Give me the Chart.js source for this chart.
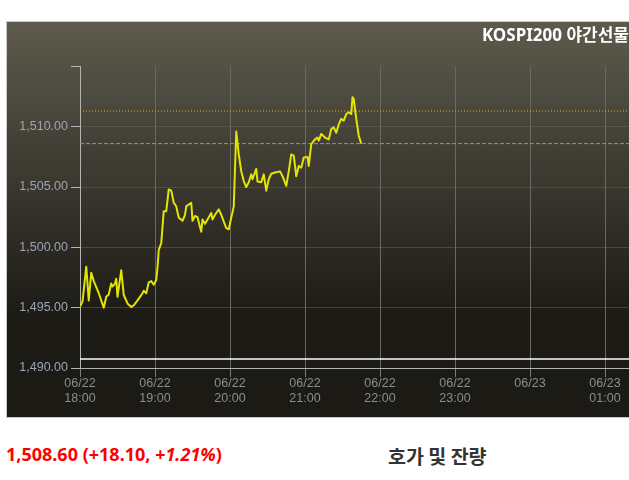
<!DOCTYPE html>
<html>
<head>
<meta charset="utf-8">
<script src="https://cdn.jsdelivr.net/npm/chart.js@4.4.1/dist/chart.umd.min.js"></script>
<style>
  html, body { margin: 0; padding: 0; background: #fff; }
  body { width: 629px; height: 480px; position: relative; overflow: hidden; }
  #chart { position: absolute; left: 0; top: 0; }
  .price { position: absolute; left: 6px; top: 442px; font: bold 18px "Noto Sans", sans-serif; color: #f00; white-space: nowrap; }
  .price i { font-style: italic; }
  .book { position: absolute; left: 388px; top: 441px; font: bold 19.5px "Noto Sans CJK KR", sans-serif; color: #333; white-space: nowrap; }
</style>
</head>
<body>
<canvas id="chart" width="629" height="420"></canvas>
<div class="price">1,508.60 (+18.10, <i>+1.21%</i>)</div>
<div class="book">호가 및 잔량</div>
<script>
// minutes after 06/22 18:00, and the price at that minute
const minutes = [0, 2, 5, 7, 9, 11, 15, 19, 21, 23, 25, 26, 28, 29, 30, 33, 35, 38, 41, 43,
    46, 48, 50, 51, 53, 55, 57, 59, 61, 62, 63, 65, 67, 69, 71, 73, 75, 77, 79, 81,
    82, 84, 85, 89, 90, 92, 94, 97, 98, 100, 102, 105, 106, 108, 111, 113, 117, 119, 121, 122,
    123, 125, 127, 129, 131, 133, 135, 137, 138, 141, 142, 145, 147, 149, 151, 153, 156, 160, 162, 165,
    167, 169, 171, 173, 175, 177, 179, 182, 183, 185, 188, 190, 191, 193, 196, 199, 201, 203, 205, 207,
    209, 211, 213, 215, 217, 218, 219, 221, 223, 225];
const prices = [1495.1, 1495.5, 1498.4, 1495.6, 1497.9, 1497.2, 1496.2, 1495.0, 1495.9, 1496.1,
    1497.0, 1496.75, 1497.0, 1497.4, 1495.9, 1498.1, 1496.05, 1495.35, 1495.05, 1495.2,
    1495.6, 1495.9, 1496.2, 1496.4, 1496.2, 1497.1, 1497.2, 1496.9, 1497.3, 1498.3,
    1499.8, 1500.35, 1503.0, 1503.0, 1504.8, 1504.7, 1503.7, 1503.4, 1502.45, 1502.3,
    1502.2, 1502.7, 1503.4, 1503.7, 1502.2, 1502.6, 1502.5, 1501.3, 1502.3, 1501.95,
    1502.3, 1502.85, 1502.3, 1502.7, 1503.15, 1502.7, 1501.6, 1501.5, 1502.45, 1502.9,
    1503.4, 1509.6, 1507.7, 1506.3, 1505.5, 1505.0, 1505.4, 1506.05, 1505.65, 1506.5,
    1505.45, 1505.4, 1506.05, 1504.7, 1505.65, 1506.1, 1506.2, 1506.3, 1505.9, 1505.1,
    1506.3, 1507.7, 1507.6, 1505.9, 1506.75, 1506.6, 1507.45, 1507.5, 1506.75, 1508.55,
    1508.95, 1509.1, 1508.85, 1509.4, 1509.1, 1508.95, 1509.8, 1509.95, 1509.5, 1510.2,
    1510.65, 1510.5, 1511.05, 1511.2, 1511.05, 1512.45, 1512.3, 1510.65, 1509.25, 1508.6];

const hourTicks = [0, 60, 120, 180, 240, 300, 360, 420];
const xTickLabels = [['06/22', '18:00'], ['06/22', '19:00'], ['06/22', '20:00'], ['06/22', '21:00'],
    ['06/22', '22:00'], ['06/22', '23:00'], ['06/23', ''], ['06/23', '01:00']];
const yMin = 1490, yMax = 1515, yStep = 5;
const xMax = 439.2;

const upperLevel = 1511.3;   // orange dotted
const currentLevel = 1508.6; // green dashed
const lowerLevel = 1490.75;  // white solid

function levelLine (level, color, width, dash) {
    return {
        data: [{x: 0, y: level}, {x: xMax, y: level}],
        borderColor: color,
        borderWidth: width,
        borderDash: dash,
        pointRadius: 0,
        order: 1
    };
}

const panelBg = {
    id: 'panelBg',
    beforeDraw (chart) {
        const c = chart.ctx;
        c.save();
        c.fillStyle = '#c8c8c8';
        c.fillRect(6, 21, 623, 397);
        const g = c.createLinearGradient(0, 22, 0, 320);
        g.addColorStop(0, '#5d5a4d');
        g.addColorStop(1, '#1c1a15');
        c.fillStyle = g;
        c.fillRect(7, 22, 622, 395);
        c.restore();
    }
};

new Chart(document.getElementById('chart'), {
    type: 'line',
    data: {
        datasets: [
            {
                label: 'KOSPI200',
                data: minutes.map((m, i) => ({x: m, y: prices[i]})),
                borderColor: '#e3e400',
                borderWidth: 2,
                pointRadius: 0,
                tension: 0,
                borderJoinStyle: 'round',
                order: 0
            },
            levelLine(upperLevel, '#f0aa30', 1, [1, 2]),
            levelLine(currentLevel, '#3ccf3c', 1, [4, 2]),
            levelLine(lowerLevel, '#ffffff', 1.5, [])
        ]
    },
    options: {
        responsive: false,
        animation: false,
        layout: { padding: { left: 7, top: 21, right: 0, bottom: 3 } },
        plugins: {
            legend: { display: false },
            tooltip: { enabled: false },
            title: {
                display: true,
                text: 'KOSPI200 야간선물',
                align: 'end',
                color: '#ffffff',
                font: { family: '"Noto Sans", "Noto Sans CJK KR", sans-serif', size: 17, weight: 'bold' },
                padding: { top: 5, bottom: 20 }
            }
        },
        scales: {
            x: {
                type: 'linear',
                min: 0,
                max: xMax,
                afterBuildTicks: (scale) => { scale.ticks = hourTicks.map(v => ({value: v})); },
                afterFit: (scale) => { scale.height = 49; },
                border: { color: '#b4b4b4', width: 1 },
                grid: { color: '#6a6964', tickColor: '#7a7a7a', tickLength: 9 },
                ticks: {
                    autoSkip: false,
                    maxRotation: 0,
                    padding: -1,
                    color: '#8c8c8c',
                    font: { family: '"Liberation Sans", sans-serif', size: 12.5 },
                    callback: (v) => xTickLabels[hourTicks.indexOf(v)]
                }
            },
            y: {
                min: yMin,
                max: yMax,
                afterFit: (scale) => { scale.width = 73; },
                border: { color: '#b4b4b4', width: 1 },
                grid: {
                    color: (ctx) => ctx.tick && ctx.tick.value === yMax ? 'rgba(0,0,0,0)' : 'rgba(110,108,100,0.45)',
                    tickColor: '#b4b4b4',
                    tickLength: 9
                },
                ticks: {
                    stepSize: yStep,
                    padding: 3,
                    color: '#9ca5b6',
                    font: { family: '"Liberation Sans", sans-serif', size: 12.5 },
                    callback: (v) => v === yMax ? '' : v.toLocaleString('en-US', {minimumFractionDigits: 2, maximumFractionDigits: 2})
                }
            }
        }
    },
    plugins: [panelBg]
});
</script>
</body>
</html>
